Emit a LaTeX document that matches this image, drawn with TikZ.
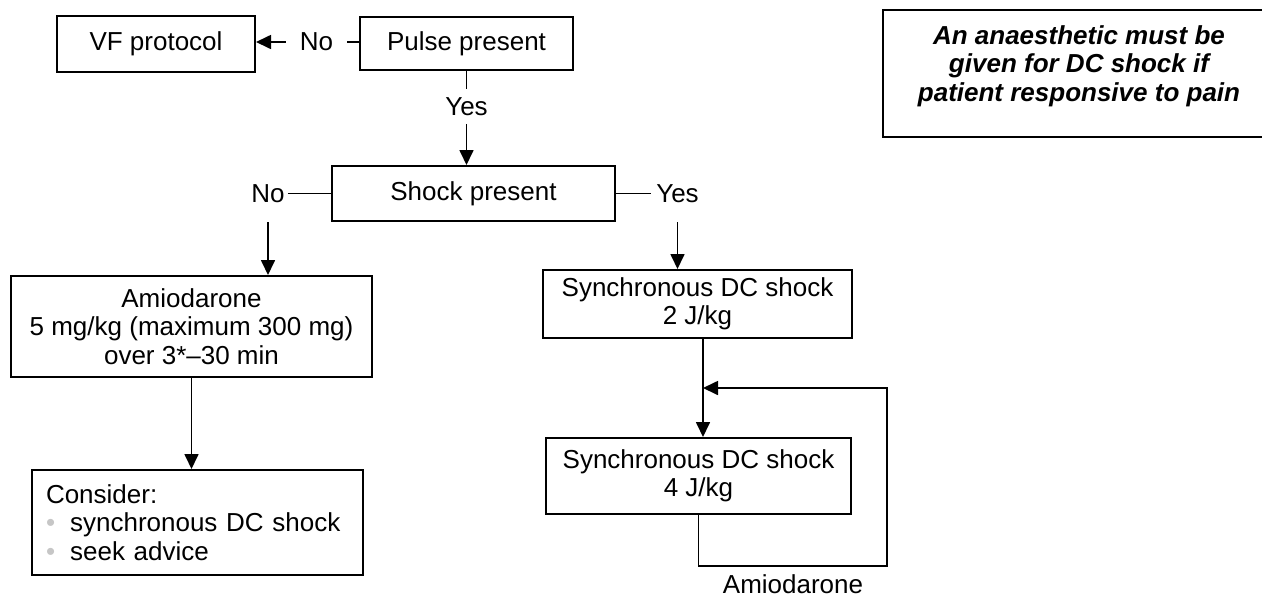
\documentclass[tikz,border=0pt]{standalone}
\usepackage{fontspec}
\setmainfont{Liberation Sans}
\usetikzlibrary{arrows.meta}
\tikzset{
  box/.style={draw, line width=2pt, inner sep=0pt, align=center},
  lbl/.style={inner sep=0pt},
  link/.style={line width=1.7pt},
  flow/.style={line width=1.7pt, -{Triangle[length=15pt,width=14pt]}},
  notetext/.style={inner sep=0pt, align=center, font=\fontsize{26}{28.5}\selectfont\bfseries\itshape},
  notebox/.style={line width=2.8pt},
}
\newcommand{\greybullet}{{\color{gray!45}\textbullet}\hspace{15pt}}
\begin{document}
\begin{tikzpicture}[x=1pt, y=-1pt, font=\fontsize{26}{28.5}\selectfont]
  \useasboundingbox (0,0) rectangle (1262,598);
  % boxes
  \node[box, minimum width=198, minimum height=56] (vf) at (156,44) {VF protocol};
  \node[box, minimum width=213, minimum height=53] (pulse) at (466.5,43.5) {Pulse present};
  \node[box, minimum width=283, minimum height=55] (shock) at (473.5,193.5) {Shock present};
  \node[box, minimum width=361, minimum height=101] (amio) at (191.5,326.5)
    {Amiodarone\\5 mg/kg (maximum 300 mg)\\over 3*--30 min};
  \node[box, minimum width=331, minimum height=105, inner xsep=14pt, text width=303pt, align=left] (consider) at (197.5,522.5)
    {Consider:\\\greybullet synchronous DC shock\\\greybullet seek advice};
  \node[box, minimum width=309, minimum height=68] (syncone) at (697.5,304) {Synchronous DC shock\\2 J/kg};
  \node[box, minimum width=305, minimum height=76] (synctwo) at (698.5,476) {Synchronous DC shock\\4 J/kg};
  % labels on the connectors
  \node[lbl, inner xsep=14pt] (nopulse) at (316.5,42) {No};
  \node[lbl, inner ysep=8pt] (yespulse) at (466.5,106.5) {Yes};
  \node[lbl, inner xsep=3pt] (noshock) at (268,193.5) {No};
  \node[lbl, inner xsep=5pt] (yesshock) at (677.5,193.5) {Yes};
  \node[lbl, anchor=north] (amioloop) at (793,574) {Amiodarone};
  \coordinate (join) at (703,388);
  \coordinate (loopcorner) at (887,566);
  % connectors
  \draw[link] (pulse.west |- nopulse.east) -- (nopulse.east);
  \draw[flow] (nopulse.west) -- (nopulse.west -| vf.east);
  \draw[link] (pulse) -- (yespulse);
  \draw[flow] (yespulse) -- (yespulse |- shock.north);
  \draw[link] (noshock) -- (shock);
  \draw[link] (shock) -- (yesshock);
  \draw[flow] (noshock |- shock.south) -- (noshock |- amio.north);
  \draw[flow] (yesshock |- shock.south) -- (yesshock |- syncone.north);
  \draw[flow] (amio.south) -- (amio.south |- consider.north);
  \draw[flow] (syncone.south -| join) -- (synctwo.north -| join);
  \draw[flow] (synctwo.south) |- (loopcorner) |- (join);
  % note
  \node[notetext] (note) at (1079,66) {An anaesthetic must be\\given for DC shock if\\patient responsive to pain};
  \draw[notebox] (883,10) rectangle (1266,137);
\end{tikzpicture}
\end{document}
